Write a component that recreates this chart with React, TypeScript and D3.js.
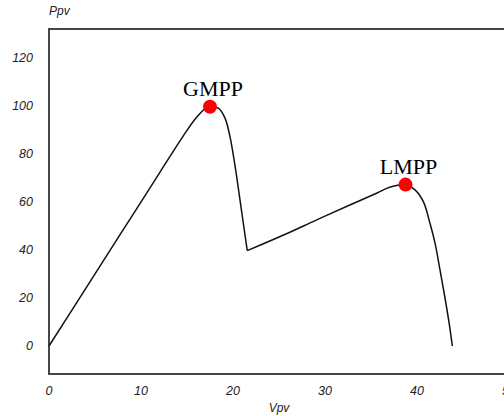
import { useEffect, useRef } from 'react';
import * as d3 from 'd3';

// P-V curve under partial shading
// first hump: 0 V up to the valley
const vpvA = [0, 4, 8, 12, 14.6, 16, 17, 17.5, 18.4, 19.13, 19.67, 20.03, 20.4, 20.76, 21.12, 21.55];
const ppvA = [0, 24, 48, 72, 87.5, 95, 98.8, 99.6, 99.0, 94.9, 87.2, 79.6, 70.5, 60.8, 51.1, 39.7];
// second hump: valley to open circuit
const vpvB = [21.55, 25.5, 29.1, 32.7, 35.6, 37.1, 38.7, 39.78, 40.69, 41.41, 41.96, 42.5, 43.02, 43.48, 43.84];
const ppvB = [39.7, 46.2, 52.5, 58.7, 63.6, 66.2, 67.2, 65, 60.1, 51.1, 42.8, 31.7, 20.5, 9.8, 0];

const peakLabels = ['GMPP', 'LMPP'];
const peakV = [17.5, 38.75];
const peakP = [99.6, 67.2];

const xTicks = [0, 10, 20, 30, 40, 50];
const yTicks = [0, 20, 40, 60, 80, 100, 120];

const W = 504;
const H = 416;

export default function App() {
  const ref = useRef<SVGSVGElement>(null);

  useEffect(() => {
    if (!ref.current) return;
    const svg = d3.select(ref.current);
    svg.selectAll('*').remove();

    const x = d3.scaleLinear().domain([0, 50]).range([49, 509]);
    const y = d3.scaleLinear().domain([-11.67, 132]).range([374, 29]);

    // frame
    svg
      .append('rect')
      .attr('x', x(0))
      .attr('y', y(132))
      .attr('width', x(50) - x(0))
      .attr('height', y(-11.67) - y(132))
      .attr('fill', 'none')
      .attr('stroke', '#333')
      .attr('stroke-width', 1.8);

    const font = '"Liberation Sans", Arial, sans-serif';

    svg
      .append('g')
      .selectAll('text')
      .data(yTicks)
      .join('text')
      .attr('x', 33)
      .attr('y', (d) => y(d) + 4.5)
      .attr('text-anchor', 'end')
      .attr('font-family', font)
      .attr('font-style', 'italic')
      .attr('font-size', 12.5)
      .attr('fill', '#222')
      .text((d) => d);

    svg
      .append('g')
      .selectAll('text')
      .data(xTicks)
      .join('text')
      .attr('x', (d) => x(d))
      .attr('y', 395)
      .attr('text-anchor', 'middle')
      .attr('font-family', font)
      .attr('font-style', 'italic')
      .attr('font-size', 12.5)
      .attr('fill', '#222')
      .text((d) => d);

    svg
      .append('text')
      .attr('x', 49)
      .attr('y', 15)
      .attr('font-family', font)
      .attr('font-style', 'italic')
      .attr('font-size', 12)
      .attr('fill', '#222')
      .text('Ppv');

    svg
      .append('text')
      .attr('x', x(25))
      .attr('y', 412)
      .attr('text-anchor', 'middle')
      .attr('font-family', font)
      .attr('font-style', 'italic')
      .attr('font-size', 12)
      .attr('fill', '#222')
      .text('Vpv');

    const line = d3
      .line<[number, number]>()
      .x((d) => x(d[0]))
      .y((d) => y(d[1]))
      .curve(d3.curveCatmullRom.alpha(0.5));

    [
      vpvA.map((v, i) => [v, ppvA[i]] as [number, number]),
      vpvB.map((v, i) => [v, ppvB[i]] as [number, number]),
    ].forEach((pts) => {
      svg
        .append('path')
        .datum(pts)
        .attr('fill', 'none')
        .attr('stroke', '#111')
        .attr('stroke-width', 1.5)
        .attr('stroke-linejoin', 'miter')
        .attr('d', line);
    });

    peakLabels.forEach((label, i) => {
      svg
        .append('circle')
        .attr('cx', x(peakV[i]))
        .attr('cy', y(peakP[i]))
        .attr('r', 7)
        .attr('fill', '#ff0000');
      svg
        .append('circle')
        .attr('cx', x(peakV[i]))
        .attr('cy', y(peakP[i]))
        .attr('r', 1.5)
        .attr('fill', '#b22');
      svg
        .append('text')
        .attr('x', x(peakV[i]) + 3)
        .attr('y', y(peakP[i]) - 11)
        .attr('text-anchor', 'middle')
        .attr('font-family', '"Liberation Serif", "Times New Roman", serif')
        .attr('font-size', 22)
        .attr('fill', '#000')
        .text(label);
    });
  }, []);

  return (
    <svg
      ref={ref}
      width={W}
      height={H}
      style={{ position: 'absolute', left: 0, top: 0, background: '#fff' }}
    />
  );
}
